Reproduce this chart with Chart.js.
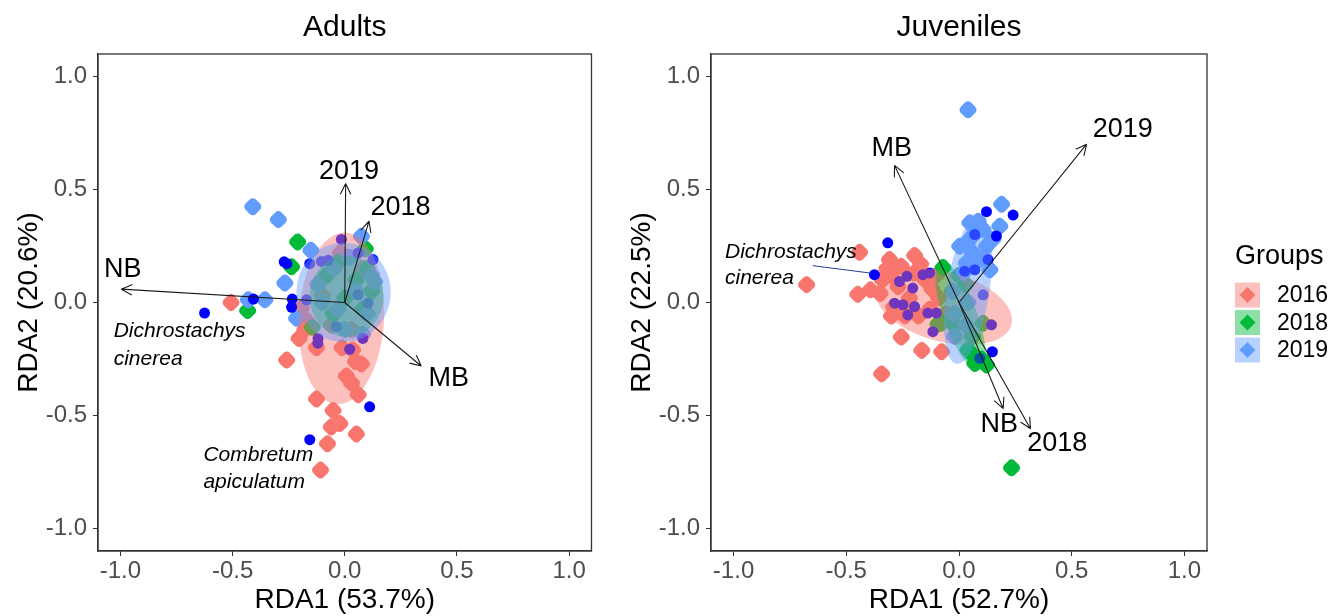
<!DOCTYPE html>
<html>
<head>
<meta charset="utf-8">
<script src="https://cdn.jsdelivr.net/npm/chart.js@4.4.1/dist/chart.umd.min.js"></script>
<style>
  html, body { margin: 0; padding: 0; background: #fff; }
  #wrap { position: relative; width: 1335px; height: 616px; overflow: hidden; }
  #adultsChart { position: absolute; left: 0; top: 0; }
  #juvChart { position: absolute; left: 600px; top: 0; }
</style>
</head>
<body>
<div id="wrap">
  <canvas id="adultsChart" width="600" height="616"></canvas>
  <canvas id="juvChart" width="735" height="616"></canvas>
</div>
<script>
// ---- shared axis / legend data ----
const tickValues = [-1.0, -0.5, 0.0, 0.5, 1.0];
const groupNames = ['2016', '2018', '2019'];
const groupColors = ['#F8766D', '#00BA38', '#619CFF'];
const groupFills = ['rgba(248,118,109,0.45)', 'rgba(0,186,56,0.45)', 'rgba(97,156,255,0.45)'];
const siteColor = '#0000FF';

// ---- Adults (RDA1 53.7%, RDA2 20.6%) ----
const adults2016 = [[-0.507, 0.0], [-0.259, -0.255], [-0.204, -0.159], [-0.178, -0.12], [-0.193, -0.025],
  [-0.126, -0.2], [-0.012, -0.2], [0.035, -0.21], [0.048, -0.262], [0.074, -0.272], [0.007, -0.325],
  [0.03, -0.357], [0.06, -0.408], [-0.126, -0.427], [-0.052, -0.478], [-0.06, -0.551], [-0.022, -0.536],
  [0.052, -0.582], [-0.077, -0.625], [-0.108, -0.742], [-0.17, -0.08], [-0.06, -0.1], [0.03, -0.12],
  [-0.1, 0.03], [0.05, 0.05], [-0.02, 0.22], [0.08, 0.15]];
const adults2018 = [[-0.21, 0.268], [-0.237, 0.158], [-0.433, -0.036], [0.092, 0.238], [-0.145, -0.11],
  [0.05, 0.1], [-0.05, -0.05], [0.08, -0.03], [-0.08, 0.12], [0.0, 0.02], [0.1, 0.15], [-0.03, 0.18], [0.12, 0.05]];
const adults2019 = [[-0.41, 0.424], [-0.296, 0.367], [-0.151, 0.231], [-0.267, 0.086], [-0.43, 0.012],
  [-0.356, 0.012], [-0.215, -0.07], [0.074, 0.293], [0.133, 0.093], [0.05, 0.05], [-0.05, 0.15], [0.1, -0.05],
  [-0.1, 0.0], [0.0, -0.12], [0.12, 0.12], [-0.12, 0.08], [0.02, 0.2], [-0.03, -0.03], [0.08, -0.14]];
const adultsSites = [[-0.625, -0.047], [-0.407, 0.015], [-0.27, 0.18], [-0.258, 0.172], [-0.234, 0.015],
  [-0.237, -0.021], [-0.156, 0.172], [0.111, -0.462], [-0.156, -0.607], [-0.104, 0.182], [-0.074, 0.187],
  [0.126, 0.19], [-0.119, -0.159], [0.022, -0.207], [0.081, -0.159], [-0.17, 0.012], [0.059, 0.034],
  [0.104, -0.003], [-0.037, -0.107], [-0.015, 0.279], [0.059, 0.219], [-0.12, -0.18]];
// ellipses: [centre x, centre y, half-axis a, half-axis b, angle of a (deg)]
const adultsEllipses = [[-0.015, -0.07, 0.38, 0.19, 87], [0.008, 0.027, 0.18, 0.165, 90], [-0.005, 0.045, 0.22, 0.21, 90]];
const adultsArrowNames = ['NB', '2019', '2018', 'MB'];
const adultsArrowTips = [[-0.996, 0.059], [0.004, 0.527], [0.108, 0.36], [0.341, -0.281]];
const adultsArrowLabels = [[-0.99, 0.145], [0.019, 0.579], [0.249, 0.422], [0.464, -0.336]];
const adultsSpecies = [['Dichrostachys', -1.03, -0.129], ['cinerea', -1.03, -0.25], ['Combretum', -0.63, -0.677], ['apiculatum', -0.63, -0.796]];

// ---- Juveniles (RDA1 52.7%, RDA2 22.5%) ----
const juv2016 = [[-0.676, 0.079], [-0.449, 0.036], [-0.393, 0.056], [-0.441, 0.222], [-0.308, 0.19],
  [-0.197, 0.208], [-0.256, 0.16], [-0.3, 0.12], [-0.34, 0.1], [-0.27, 0.07], [-0.2, 0.13], [-0.15, 0.1],
  [-0.12, 0.06], [-0.22, 0.02], [-0.29, -0.02], [-0.3, -0.06], [-0.24, -0.06], [-0.18, -0.06], [-0.13, -0.03],
  [-0.09, 0.02], [-0.256, -0.153], [-0.165, -0.212], [-0.077, -0.218], [-0.343, -0.316], [-0.35, 0.04],
  [-0.17, 0.17], [-0.1, 0.12], [-0.06, -0.05], [-0.32, 0.15], [-0.21, -0.03]];
const juv2018 = [[-0.071, 0.155], [-0.078, -0.092], [0.107, -0.092], [0.04, -0.21], [0.062, -0.233],
  [0.085, -0.255], [0.122, -0.277], [0.233, -0.732], [-0.093, -0.095], [0.03, 0.08], [-0.02, -0.1],
  [0.06, -0.15], [0.1, -0.25], [0.07, -0.27], [0.0, 0.12]];
const juv2019 = [[0.04, 0.853], [0.189, 0.435], [0.048, 0.353], [0.085, 0.36], [0.181, 0.338], [0.107, 0.323],
  [0.003, 0.249], [0.04, 0.271], [0.122, 0.249], [0.092, 0.19], [0.033, 0.175], [0.137, 0.145], [0.018, 0.131],
  [0.065, 0.3], [0.15, 0.28], [0.06, 0.22], [-0.02, -0.05], [0.04, 0.0], [-0.03, 0.05], [-0.02, -0.15], [0.03, -0.1]];
const juvSites = [[-0.316, 0.264], [-0.375, 0.123], [0.122, 0.402], [0.24, 0.387], [0.07, 0.301], [0.166, 0.294],
  [0.129, 0.19], [0.07, 0.145], [0.025, 0.138], [0.148, -0.218], [0.092, -0.247], [-0.264, 0.093],
  [-0.231, 0.116], [-0.205, 0.064], [-0.16, 0.123], [-0.13, 0.131], [-0.286, -0.003], [-0.249, -0.01],
  [-0.197, -0.018], [-0.227, -0.055], [-0.138, -0.047], [-0.1, -0.047], [-0.116, -0.129], [0.107, 0.034], [0.144, -0.099]];
const juvEllipses = [[-0.067, -0.018, 0.31, 0.155, -15], [0.007, -0.062, 0.252, 0.075, -70], [0.04, 0.055, 0.33, 0.095, 81]];
const juvArrowNames = ['MB', '2019', 'NB', '2018'];
const juvArrowTips = [[-0.286, 0.607], [0.566, 0.701], [0.196, -0.47], [0.317, -0.559]];
const juvArrowLabels = [[-0.298, 0.681], [0.726, 0.767], [0.178, -0.539], [0.436, -0.625]];
const juvSpecies = [['Dichrostachys', -1.038, 0.222], ['cinerea', -1.038, 0.108]];
const juvLeader = [[-0.649, 0.163], [-0.39, 0.13]];

const family = '"Liberation Sans", Arial, sans-serif';
Chart.defaults.font.family = family;

function toXY(arr) {
    return arr.map(p => ({ x: p[0], y: p[1] }));
}

function axisOptions(titleText, isY, yTitlePad, yWidth) {
    return {
        type: 'linear',
        min: -1.1,
        max: 1.1,
        afterBuildTicks: function(scale) {
            scale.ticks = tickValues.map(v => ({ value: v }));
        },
        afterFit: function(scale) {
            if (isY) scale.width = yWidth; else scale.height = 65;
        },
        ticks: {
            callback: v => v.toFixed(1),
            color: '#4d4d4d',
            font: { size: 24, lineHeight: 1.2 },
            padding: isY ? 6 : 1
        },
        grid: { drawOnChartArea: false, drawTicks: true, tickLength: 5, tickColor: '#333333' },
        border: { display: true, color: '#333333', width: 1.3 },
        title: {
            display: true,
            text: titleText,
            color: '#000',
            font: { size: 28, lineHeight: 1 },
            padding: isY ? { top: yTitlePad, bottom: 0 } : { top: 0, bottom: 2 }
        }
    };
}

function overlay(panel) {
    return {
        id: 'rdaOverlay',
        afterDatasetsDraw(chart) {
            const { ctx, chartArea: a } = chart;
            const x = chart.scales.x, y = chart.scales.y;
            const sx = x.getPixelForValue(1) - x.getPixelForValue(0);
            const sy = y.getPixelForValue(0) - y.getPixelForValue(1);

            ctx.save();
            ctx.beginPath();
            ctx.rect(a.left, a.top, a.right - a.left, a.bottom - a.top);
            ctx.clip();

            // group ellipses, translucent, over the points
            panel.ellipses.forEach((e, i) => {
                ctx.save();
                ctx.translate(x.getPixelForValue(e[0]), y.getPixelForValue(e[1]));
                ctx.scale(sx, -sy);
                ctx.rotate(e[4] * Math.PI / 180);
                ctx.beginPath();
                ctx.ellipse(0, 0, e[2], e[3], 0, 0, Math.PI * 2);
                ctx.restore();
                ctx.fillStyle = groupFills[i];
                ctx.fill();
            });

            // biplot arrows
            const x0 = x.getPixelForValue(0), y0 = y.getPixelForValue(0);
            ctx.strokeStyle = '#1a1a1a';
            ctx.lineWidth = 1.1;
            panel.arrowTips.forEach(t => {
                const x1 = x.getPixelForValue(t[0]), y1 = y.getPixelForValue(t[1]);
                const ang = Math.atan2(y1 - y0, x1 - x0);
                ctx.beginPath();
                ctx.moveTo(x0, y0);
                ctx.lineTo(x1, y1);
                [-1, 1].forEach(s => {
                    ctx.moveTo(x1, y1);
                    ctx.lineTo(x1 - 12 * Math.cos(ang + s * 0.45), y1 - 12 * Math.sin(ang + s * 0.45));
                });
                ctx.stroke();
            });

            if (panel.leader) {
                ctx.strokeStyle = '#1f3f99';
                ctx.lineWidth = 1;
                ctx.beginPath();
                ctx.moveTo(x.getPixelForValue(panel.leader[0][0]), y.getPixelForValue(panel.leader[0][1]));
                ctx.lineTo(x.getPixelForValue(panel.leader[1][0]), y.getPixelForValue(panel.leader[1][1]));
                ctx.stroke();
            }
            ctx.restore();

            ctx.save();
            ctx.fillStyle = '#000';
            ctx.textBaseline = 'middle';
            ctx.textAlign = 'center';
            ctx.font = '27px ' + family;
            panel.arrowNames.forEach((n, i) => {
                ctx.fillText(n, x.getPixelForValue(panel.arrowLabels[i][0]), y.getPixelForValue(panel.arrowLabels[i][1]));
            });

            ctx.textAlign = 'left';
            ctx.font = 'italic 21px ' + family;
            panel.species.forEach(s => {
                ctx.fillText(s[0], x.getPixelForValue(s[1]), y.getPixelForValue(s[2]));
            });

            // panel frame and title
            ctx.strokeStyle = '#333333';
            ctx.lineWidth = 1.3;
            ctx.strokeRect(a.left, a.top, a.right - a.left, a.bottom - a.top);
            ctx.textAlign = 'center';
            ctx.font = '30px ' + family;
            ctx.fillText(panel.title, (a.left + a.right) / 2, 28);

            if (panel.legend) {
                const lx = a.right + 28;
                ctx.textAlign = 'left';
                ctx.font = '27px ' + family;
                ctx.fillText('Groups', lx, 257);
                ctx.font = '23px ' + family;
                groupNames.forEach((g, i) => {
                    const cy = 295 + i * 27.5;
                    ctx.fillStyle = groupFills[i];
                    ctx.fillRect(lx, cy - 12.5, 25, 25);
                    ctx.fillStyle = groupColors[i];
                    ctx.beginPath();
                    ctx.moveTo(lx + 12.5, cy - 8);
                    ctx.lineTo(lx + 20.5, cy);
                    ctx.lineTo(lx + 12.5, cy + 8);
                    ctx.lineTo(lx + 4.5, cy);
                    ctx.closePath();
                    ctx.fill();
                    ctx.fillStyle = '#000';
                    ctx.fillText(g, lx + 42, cy + 1);
                });
            }
            ctx.restore();
        }
    };
}

function makePanel(canvasId, panel) {
    const diamond = (data, i, order) => ({
        label: groupNames[i],
        data: toXY(data),
        pointStyle: 'rectRounded',
        rotation: 45,
        pointRadius: 8.5,
        pointBorderWidth: 0,
        backgroundColor: groupColors[i],
        borderColor: groupColors[i],
        order: order
    });
    new Chart(document.getElementById(canvasId).getContext('2d'), {
        type: 'scatter',
        data: {
            datasets: [
                { label: 'sites', data: toXY(panel.sites), pointStyle: 'circle', pointRadius: 5.5, pointBorderWidth: 0,
                  backgroundColor: siteColor, borderColor: siteColor, order: 0 },
                diamond(panel.g2019, 2, 1),
                diamond(panel.g2018, 1, 2),
                diamond(panel.g2016, 0, 3)
            ]
        },
        options: {
            responsive: false,
            animation: false,
            events: [],
            layout: { padding: { top: 54, bottom: 0, left: 0, right: panel.padRight } },
            plugins: { legend: { display: false }, tooltip: { enabled: false }, title: { display: false } },
            scales: {
                x: axisOptions(panel.xTitle, false),
                y: axisOptions(panel.yTitle, true, panel.yTitlePad, panel.yWidth)
            }
        },
        plugins: [overlay(panel)]
    });
}

makePanel('adultsChart', {
    title: 'Adults', xTitle: 'RDA1 (53.7%)', yTitle: 'RDA2 (20.6%)',
    g2016: adults2016, g2018: adults2018, g2019: adults2019, sites: adultsSites,
    ellipses: adultsEllipses, arrowNames: adultsArrowNames, arrowTips: adultsArrowTips,
    arrowLabels: adultsArrowLabels, species: adultsSpecies,
    yWidth: 98, yTitlePad: 15, padRight: 5, legend: false
});

makePanel('juvChart', {
    title: 'Juveniles', xTitle: 'RDA1 (52.7%)', yTitle: 'RDA2 (22.5%)',
    g2016: juv2016, g2018: juv2018, g2019: juv2019, sites: juvSites,
    ellipses: juvEllipses, arrowNames: juvArrowNames, arrowTips: juvArrowTips,
    arrowLabels: juvArrowLabels, species: juvSpecies, leader: juvLeader,
    yWidth: 111, yTitlePad: 28, padRight: 128, legend: true
});
</script>
</body>
</html>
